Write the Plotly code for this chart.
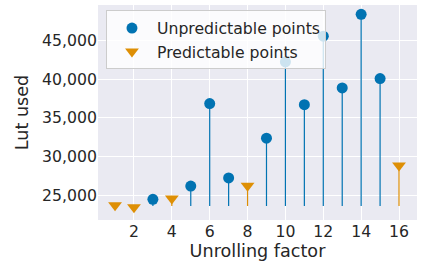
import plotly.graph_objects as go

# Data
unpred_x = [3, 5, 6, 7, 9, 10, 11, 12, 13, 14, 15]
unpred_y = [24550, 26250, 36850, 27300, 32400, 42200, 36700, 45500, 38850, 48300, 40050]
pred_x = [1, 2, 4, 8, 16]
pred_y = [23800, 23550, 24650, 26300, 28900]
BASELINE = 23700

BLUE = "#0173B2"
ORANGE = "#DE8F05"

def stems(xs, ys, base):
    sx, sy = [], []
    for x, y in zip(xs, ys):
        sx += [x, x, None]
        sy += [base, y, None]
    return sx, sy

fig = go.Figure()
ux, uy = stems(unpred_x, unpred_y, BASELINE)
px_, py_ = stems(pred_x, pred_y, BASELINE)
fig.add_trace(go.Scatter(x=ux, y=uy, mode="lines", line=dict(color=BLUE, width=1.2),
                         showlegend=False, hoverinfo="skip"))
fig.add_trace(go.Scatter(x=px_, y=py_, mode="lines", line=dict(color=ORANGE, width=1.2),
                         showlegend=False, hoverinfo="skip"))
fig.add_trace(go.Scatter(x=unpred_x, y=unpred_y, mode="markers", name="Unpredictable points",
                         marker=dict(color=BLUE, size=11, symbol="circle", line=dict(width=0))))
fig.add_trace(go.Scatter(x=pred_x, y=pred_y, mode="markers", name="Predictable points",
                         marker=dict(color=ORANGE, size=12, symbol="triangle-down", line=dict(width=0))))

font = "DejaVu Sans"
fig.update_layout(
    width=422, height=269,
    margin=dict(l=98, r=5, t=5, b=49, autoexpand=False),
    paper_bgcolor="white",
    plot_bgcolor="#EAEAF2",
    font=dict(family=font, color="#262626", size=15.7),
    showlegend=True,
    legend=dict(x=0.025, y=0.975, xanchor="left", yanchor="top",
                bgcolor="rgba(255,255,255,0.8)", bordercolor="#CCCCCC", borderwidth=1,
                font=dict(size=15.7, family=font), itemwidth=40, tracegroupgap=0),
)
fig.update_xaxes(range=[0.1, 16.95], tickvals=[2, 4, 6, 8, 10, 12, 14, 16],
                 showgrid=True, gridcolor="white", gridwidth=1, zeroline=False,
                 ticks="", tickfont=dict(size=15.7), automargin=False,
                 title=dict(text="Unrolling factor", font=dict(size=17.6), standoff=4))
fig.update_yaxes(range=[21900, 49500], tickvals=[25000, 30000, 35000, 40000, 45000],
                 tickformat=",d", showgrid=True, gridcolor="white", gridwidth=1, zeroline=False,
                 ticks="", tickfont=dict(size=15.7), automargin=False,
                 title=dict(text="Lut used", font=dict(size=17.6), standoff=8))

fig.write_html("out.html", config={"displayModeBar": False},
               post_script="document.body.style.margin='0';")
